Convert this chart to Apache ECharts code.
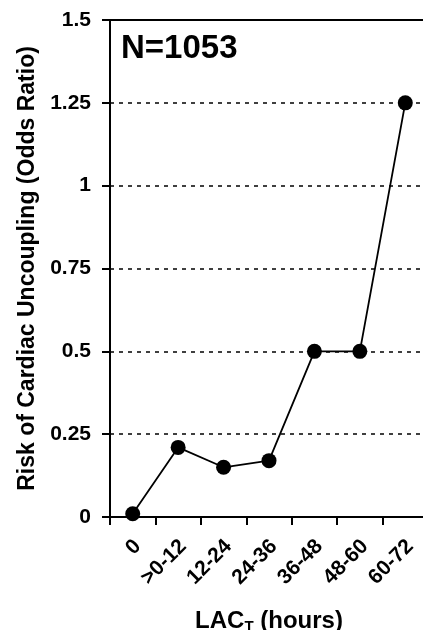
<!DOCTYPE html>
<html>
<head>
<meta charset="utf-8">
<script src="https://cdn.jsdelivr.net/npm/echarts@6/dist/echarts.min.js"></script>
<style>html,body{margin:0;padding:0;background:#fff;overflow:hidden;width:423px;height:630px}#wrap{position:relative;width:423px;height:630px;overflow:hidden}#c{position:absolute;left:0;top:0;width:428px;height:630px}</style>
</head>
<body>
<div id="wrap"><div id="c"></div></div>
<script>
var categories = ['0', '>0-12', '12-24', '24-36', '36-48', '48-60', '60-72'];
var oddsRatio = [0.01, 0.21, 0.15, 0.17, 0.5, 0.5, 1.25];
var yTicks = [0, 0.25, 0.5, 0.75, 1, 1.25, 1.5];
var annotation = 'N=1053';

var chart = echarts.init(document.getElementById('c'), null, {renderer: 'canvas'});
var font = 'Liberation Sans, Arial, sans-serif';
chart.setOption({
  animation: false,
  backgroundColor: '#fff',
  grid: {left: 110, right: 0, top: 20, bottom: 113, containLabel: false, outerBoundsMode: 'none'},
  xAxis: [{
    type: 'category',
    data: categories,
    boundaryGap: true,
    axisLine: {show: true, lineStyle: {color: '#000', width: 2}},
    axisTick: {show: true, length: 8, lineStyle: {color: '#000', width: 2}},
    axisLabel: {rotate: 45, margin: 31, padding: [0, -7, 0, 0], color: '#000', fontFamily: font, fontWeight: 'bold', fontSize: 21},
    name: '{a|LAC}{b|T}{a| (hours)}',
    nameLocation: 'middle',
    nameGap: 92,
    nameTextStyle: {
      rich: {
        a: {fontFamily: font, fontWeight: 'bold', fontSize: 24, color: '#000'},
        b: {fontFamily: font, fontWeight: 'bold', fontSize: 15, color: '#000', verticalAlign: 'bottom', padding: [10, 0, 0, 0]}
      }
    }
  }, {
    type: 'category',
    position: 'top',
    data: categories,
    axisLine: {show: true, lineStyle: {color: '#000', width: 2}},
    axisTick: {show: false},
    axisLabel: {show: false}
  }],
  yAxis: {
    type: 'value',
    min: 0,
    max: 1.5,
    interval: 0.25,
    axisLine: {show: true, onZero: false, lineStyle: {color: '#000', width: 2}},
    axisTick: {show: true, length: 8, lineStyle: {color: '#000', width: 2}},
    axisLabel: {
      margin: 19, color: '#000', fontFamily: font, fontWeight: 'bold', fontSize: 21,
      formatter: function (v) { return yTicks.indexOf(v) >= 0 ? String(v) : ''; }
    },
    splitLine: {show: true, lineStyle: {color: '#000', width: 1.5, type: [4, 5]}},
    name: 'Risk of Cardiac Uncoupling (Odds Ratio)',
    nameLocation: 'middle',
    nameGap: 71,
    nameTextStyle: {fontFamily: font, fontWeight: 'bold', fontSize: 23, color: '#000'}
  },
  graphic: [{
    type: 'text',
    left: 121,
    top: 32,
    style: {text: annotation, fontFamily: font, fontWeight: 'bold', fontSize: 33, fill: '#000'}
  }],
  series: [{
    type: 'line',
    data: oddsRatio,
    symbol: 'circle',
    symbolSize: 15,
    itemStyle: {color: '#000'},
    lineStyle: {color: '#000', width: 1.8},
    z: 5
  }]
});
</script>
</body>
</html>
